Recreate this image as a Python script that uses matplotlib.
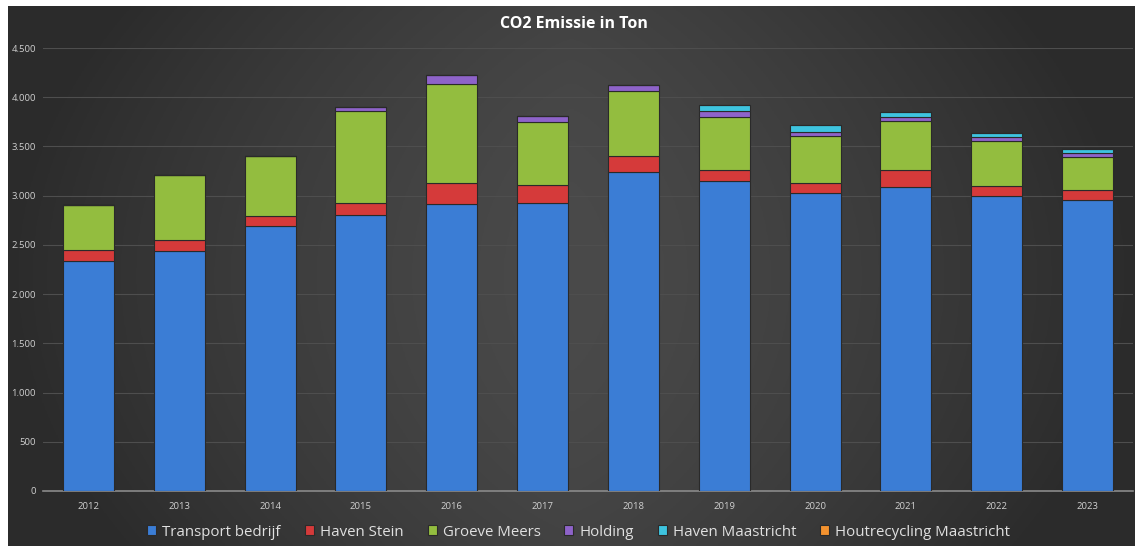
import numpy as np
import matplotlib.pyplot as plt
import matplotlib.ticker as ticker

years = ["2012", "2013", "2014", "2015", "2016", "2017",
         "2018", "2019", "2020", "2021", "2022", "2023"]

transport     = [2335, 2440, 2690, 2800, 2915, 2925, 3245, 3145, 3030, 3090, 2995, 2955]
haven_stein   = [115, 110, 100, 130, 210, 180, 160, 120, 100, 175, 105, 100]
groeve_meers  = [455, 660, 610, 935, 1005, 640, 655, 530, 475, 490, 455, 340]
holding       = [0, 0, 0, 40, 95, 60, 65, 60, 45, 45, 40, 35]
haven_maas    = [0, 0, 0, 0, 0, 0, 0, 65, 70, 50, 40, 40]
houtrecycling = [0, 0, 0, 0, 0, 0, 0, 0, 0, 0, 0, 0]

series = [
    ("Transport bedrijf",        transport,     "#3b7dd5"),
    ("Haven Stein",              haven_stein,   "#d53a3a"),
    ("Groeve Meers",             groeve_meers,  "#93bd3f"),
    ("Holding",                  holding,       "#8e63c9"),
    ("Haven Maastricht",         haven_maas,    "#3ec4df"),
    ("Houtrecycling Maastricht", houtrecycling, "#f3922f"),
]

plt.rcParams["font.family"] = ["Open Sans", "DejaVu Sans"]

fig = plt.figure(figsize=(11.35, 5.46), dpi=100, facecolor="white")

# --- dark background, lighter towards the middle ---
bg = fig.add_axes([8 / 1135, 0, 1 - 8 / 1135, 1 - 6 / 546])
xx = np.linspace(-1, 1, 400)
yy = np.linspace(-1, 1, 200)
X, Y = np.meshgrid(xx, yy)
shade = 0.29 - 0.12 * np.clip(np.abs(X) ** 1.3 + 0.25 * Y ** 2, 0, 1)
bg.imshow(np.dstack([shade, shade, shade]), aspect="auto", extent=[0, 1, 0, 1])
bg.set_axis_off()

# --- bars ---
ax = fig.add_axes([43 / 1135, 1 - 491 / 546, (1133 - 43) / 1135, (491 - 48) / 546])
ax.set_facecolor("none")
x = np.arange(len(years))
bottom = np.zeros(len(years))
for name, vals, col in series:
    vals = np.array(vals, dtype=float)
    ax.bar(x, vals, 0.56, bottom=bottom, color=col, label=name,
           edgecolor="#2a2a2a", linewidth=0.8, zorder=3)
    bottom += vals

ax.set_xlim(-0.5, len(years) - 0.5)
ax.set_ylim(0, 4500)
ax.set_yticks(np.arange(0, 4501, 500))
ax.yaxis.set_major_formatter(ticker.FuncFormatter(lambda v, _: f"{v:,.0f}".replace(",", ".")))
ax.set_xticks(x)
ax.set_xticklabels(years)
ax.tick_params(axis="both", length=0, labelsize=6.8, colors="#d0d0d0")
ax.tick_params(axis="x", pad=8)
ax.tick_params(axis="y", pad=5)
ax.grid(axis="y", color="#4e4e4e", linewidth=0.8, zorder=0)
for s in ["top", "right", "left"]:
    ax.spines[s].set_visible(False)
ax.spines["bottom"].set_color("#8a8a8a")
ax.spines["bottom"].set_linewidth(1.2)

fig.text(0.506, 1 - 24 / 546, "CO2 Emissie in Ton", ha="center", va="center",
         color="white", fontsize=11.5, fontweight="bold")

fig.legend(loc="center", bbox_to_anchor=(0.51, 1 - 532 / 546), ncol=6, frameon=False,
           fontsize=10.8, labelcolor="#e0e0e0", handlelength=0.6, handleheight=0.6,
           handletextpad=0.4, columnspacing=1.6)

fig.savefig("out.png", dpi=100, facecolor="white")
